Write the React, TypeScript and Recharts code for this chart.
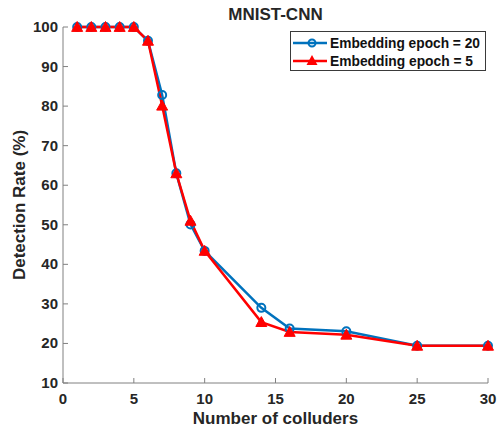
import { LineChart, Line, XAxis, YAxis } from "recharts";

const colluders = [1, 2, 3, 4, 5, 6, 7, 8, 9, 10, 14, 16, 20, 25, 30];
const epoch20 = [100, 100, 100, 100, 100, 96.5, 82.8, 63, 50.1, 43.4, 29, 23.8, 23.1, 19.4, 19.4];
const epoch5 = [100, 100, 100, 100, 100, 96.5, 80.1, 63, 51, 43.4, 25.4, 22.9, 22.2, 19.4, 19.4];
const xTicks = [0, 5, 10, 15, 20, 25, 30];
const yTicks = [10, 20, 30, 40, 50, 60, 70, 80, 90, 100];

const data = colluders.map((c, i) => ({ c, e20: epoch20[i], e5: epoch5[i] }));

const FONT = "'Liberation Sans', Arial, Helvetica, sans-serif";
const TEXT = "#262626";
const AXIS = "#808080";
const BLUE = "#0072BD";
const RED = "#FF0000";

function BottomTick({ x, y, payload }: any) {
  return (
    <g>
      <line x1={x} y1={y} x2={x} y2={y - 5} stroke={AXIS} />
      <text x={x} y={y + 21} textAnchor="middle" fill={TEXT} fontSize={15} fontWeight="bold" fontFamily={FONT}>
        {payload.value}
      </text>
    </g>
  );
}

function LeftTick({ x, y, payload }: any) {
  return (
    <g>
      <line x1={x} y1={y} x2={x + 5} y2={y} stroke={AXIS} />
      <text x={x - 5} y={y + 5} textAnchor="end" fill={TEXT} fontSize={15} fontWeight="bold" fontFamily={FONT}>
        {payload.value}
      </text>
    </g>
  );
}

function TopTick({ x, y }: any) {
  return <line x1={x} y1={y} x2={x} y2={y + 5} stroke={AXIS} />;
}

function RightTick({ x, y }: any) {
  return <line x1={x} y1={y} x2={x - 5} y2={y} stroke={AXIS} />;
}

function Circle({ cx, cy }: any) {
  if (cx == null || cy == null) return null;
  return <circle cx={cx} cy={cy} r={4} fill="none" stroke={BLUE} strokeWidth={2} />;
}

function Triangle({ cx, cy }: any) {
  if (cx == null || cy == null) return null;
  const s = 5.5;
  return (
    <polygon
      points={`${cx},${cy - s} ${cx - s},${cy + s * 0.8} ${cx + s},${cy + s * 0.8}`}
      fill={RED}
      stroke={RED}
      strokeWidth={1}
    />
  );
}

// legend is drawn on its own so it takes no room from the plot
function LegendBox() {
  const rows = [
    { label: "Embedding epoch = 20", color: BLUE, marker: "circle", len: 150 },
    { label: "Embedding epoch = 5", color: RED, marker: "triangle", len: 143 },
  ];
  return (
    <svg style={{ position: "absolute", left: 290, top: 31 }} width={197} height={41}>
      <rect x={0.5} y={0.5} width={195} height={39} fill="#fff" stroke="#3a3a3a" />
      {rows.map((r, i) => {
        const cy = 12 + i * 18;
        return (
          <g key={r.label}>
            <line x1={3} y1={cy} x2={37} y2={cy} stroke={r.color} strokeWidth={2.5} />
            {r.marker === "circle" ? (
              <circle cx={22} cy={cy} r={3.5} fill="none" stroke={r.color} strokeWidth={2} />
            ) : (
              <polygon points={`22,${cy - 6} 16.5,${cy + 4} 27.5,${cy + 4}`} fill={r.color} />
            )}
            <text
              x={40}
              y={cy + 5}
              fill="#111"
              fontSize={14}
              fontWeight="bold"
              fontFamily={FONT}
              textLength={r.len}
              lengthAdjust="spacingAndGlyphs"
            >
              {r.label}
            </text>
          </g>
        );
      })}
    </svg>
  );
}

export default function App() {
  return (
    <div style={{ position: "absolute", left: 0, top: 0, width: 502, height: 431, background: "#fff" }}>
      <LineChart width={502} height={431} data={data} margin={{ top: 27, right: 14, left: 0, bottom: 0 }}>
        <text x={275.5} y={20} textAnchor="middle" fill={TEXT} fontSize={17} fontWeight="bold" fontFamily={FONT}>
          MNIST-CNN
        </text>
        <XAxis
          dataKey="c"
          type="number"
          domain={[0, 30]}
          ticks={xTicks}
          height={48}
          tickSize={0}
          tickMargin={0}
          tickLine={false}
          axisLine={{ stroke: AXIS }}
          tick={<BottomTick />}
          interval={0}
          label={({ viewBox }: any) => (
            <text
              x={viewBox.x + viewBox.width / 2}
              y={viewBox.y + 41}
              textAnchor="middle"
              fill={TEXT}
              fontSize={17}
              fontWeight="bold"
              fontFamily={FONT}
            >
              Number of colluders
            </text>
          )}
        />
        <XAxis
          xAxisId="top"
          orientation="top"
          dataKey="c"
          type="number"
          domain={[0, 30]}
          ticks={xTicks}
          height={0}
          tickSize={0}
          tickMargin={0}
          tickLine={false}
          axisLine={{ stroke: AXIS }}
          tick={<TopTick />}
          interval={0}
        />
        <YAxis
          type="number"
          domain={[10, 100]}
          ticks={yTicks}
          width={63}
          tickSize={0}
          tickMargin={0}
          tickLine={false}
          axisLine={{ stroke: AXIS }}
          tick={<LeftTick />}
          interval={0}
          label={({ viewBox }: any) => {
            const cx = 19;
            const cy = viewBox.y + viewBox.height / 2;
            return (
              <text
                x={cx}
                y={cy}
                transform={`rotate(-90, ${cx}, ${cy})`}
                textAnchor="middle"
                dominantBaseline="central"
                fill={TEXT}
                fontSize={17}
                fontWeight="bold"
                fontFamily={FONT}
              >
                Detection Rate (%)
              </text>
            );
          }}
        />
        <YAxis
          yAxisId="right"
          orientation="right"
          type="number"
          domain={[10, 100]}
          ticks={yTicks}
          width={0}
          tickSize={0}
          tickMargin={0}
          tickLine={false}
          axisLine={{ stroke: AXIS }}
          tick={<RightTick />}
          interval={0}
        />
        <Line
          dataKey="e20"
          stroke={BLUE}
          strokeWidth={2.5}
          dot={<Circle />}
          activeDot={false}
          isAnimationActive={false}
        />
        <Line
          dataKey="e5"
          stroke={RED}
          strokeWidth={2.5}
          dot={<Triangle />}
          activeDot={false}
          isAnimationActive={false}
        />
      </LineChart>
      <LegendBox />
    </div>
  );
}
